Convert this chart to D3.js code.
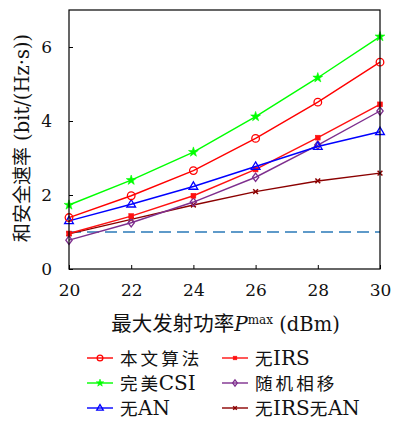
<!DOCTYPE html>
<html><head><meta charset="utf-8">
<script src="https://cdn.jsdelivr.net/npm/d3@7"></script>
<style>
body{margin:0;background:#fff;}
svg{display:block;}
</style></head><body>
<svg id="chart" width="393" height="421"></svg>
<script>
const xValues = [20, 22, 24, 26, 28, 30];
const seriesNames = ["本文算法", "完美CSI", "无AN", "无IRS", "随机相移", "无IRS无AN"];
const proposed = [1.39, 1.98, 2.66, 3.53, 4.51, 5.59];
const perfectCSI = [1.73, 2.40, 3.16, 4.12, 5.17, 6.28];
const noAN = [1.30, 1.75, 2.23, 2.77, 3.31, 3.71];
const noIRS = [0.96, 1.43, 1.98, 2.69, 3.55, 4.45];
const randomPhase = [0.78, 1.25, 1.81, 2.48, 3.35, 4.27];
const noIRSnoAN = [0.95, 1.34, 1.73, 2.09, 2.38, 2.59];
const threshold = [1.0, 1.0];
const xTicks = [20, 22, 24, 26, 28, 30];
const yTicks = [0, 2, 4, 6];

const SERIF = "DejaVu Serif";
const CJK = "Noto Sans CJK SC";

const svg = d3.select("#chart");
const L = 69, R = 380, T = 10, B = 269;
const x = d3.scaleLinear().domain([20, 30]).range([L, R]);
const y = d3.scaleLinear().domain([0, 7]).range([B, T]);

const styles = [
  {data: proposed, color: "#ff0000", marker: "circle"},
  {data: perfectCSI, color: "#00ff00", marker: "star"},
  {data: noAN, color: "#0000ff", marker: "triangle"},
  {data: noIRS, color: "#ff1010", marker: "square"},
  {data: randomPhase, color: "#7e2f8e", marker: "diamond"},
  {data: noIRSnoAN, color: "#8b0000", marker: "cross"}
];

svg.append("line")
  .attr("x1", x(20)).attr("x2", x(30))
  .attr("y1", y(threshold[0])).attr("y2", y(threshold[1]))
  .attr("stroke", "#2a7ab8").attr("stroke-width", 1.3)
  .attr("stroke-dasharray", "12,6");

const line = d3.line().x((d, i) => x(xValues[i])).y(d => y(d));

function drawMarker(g, type, cx, cy, color, s) {
  s = s || 1;
  if (type === "circle") {
    g.append("circle").attr("cx", cx).attr("cy", cy).attr("r", 3.8 * s)
      .attr("fill", "none").attr("stroke", color).attr("stroke-width", 1.3);
  } else if (type === "star") {
    g.append("path").attr("transform", `translate(${cx},${cy})`)
      .attr("d", d3.symbol(d3.symbolStar, 30 * s * s)())
      .attr("fill", color).attr("stroke", color).attr("stroke-width", 0.6);
  } else if (type === "triangle") {
    const r = 4.6 * s;
    g.append("path")
      .attr("d", `M${cx},${cy - r}L${cx + r * 0.95},${cy + r * 0.6}L${cx - r * 0.95},${cy + r * 0.6}Z`)
      .attr("fill", "none").attr("stroke", color).attr("stroke-width", 1.3);
  } else if (type === "square") {
    const h = 2.4 * s;
    g.append("rect").attr("x", cx - h).attr("y", cy - h).attr("width", 2 * h).attr("height", 2 * h)
      .attr("fill", color).attr("stroke", color).attr("stroke-width", 0.6);
  } else if (type === "diamond") {
    const r = 4.2 * s;
    g.append("path")
      .attr("d", `M${cx},${cy - r}L${cx + r * 0.75},${cy}L${cx},${cy + r}L${cx - r * 0.75},${cy}Z`)
      .attr("fill", "none").attr("stroke", color).attr("stroke-width", 1.3);
  } else if (type === "cross") {
    const r = 2.4 * s;
    g.append("path")
      .attr("d", `M${cx - r},${cy - r}L${cx + r},${cy + r}M${cx - r},${cy + r}L${cx + r},${cy - r}`)
      .attr("stroke", color).attr("stroke-width", 1.5);
  }
}

const order = [5, 4, 3, 2, 0, 1];
order.forEach(k => {
  const st = styles[k];
  const g = svg.append("g");
  g.append("path").attr("d", line(st.data)).attr("fill", "none")
    .attr("stroke", st.color).attr("stroke-width", 1.4);
  st.data.forEach((v, i) => drawMarker(g, st.marker, x(xValues[i]), y(v), st.color));
});

svg.append("rect").attr("x", L).attr("y", T).attr("width", R - L).attr("height", B - T)
  .attr("fill", "none").attr("stroke", "#000").attr("stroke-width", 1.2);

const xAxis = d3.axisBottom(x).tickValues(xTicks).tickFormat(d3.format("d"))
  .tickSizeInner(-4).tickSizeOuter(0).tickPadding(15);
const gx = svg.append("g").attr("transform", `translate(0,${B})`).call(xAxis);
gx.attr("font-family", null);
gx.select(".domain").remove();
gx.selectAll("text").attr("font-size", 17).attr("fill", "#111").attr("font-family", SERIF);
gx.selectAll("line").attr("stroke", "#000");

const yAxis = d3.axisLeft(y).tickValues(yTicks).tickFormat(d3.format("d"))
  .tickSizeInner(-4).tickSizeOuter(0).tickPadding(17);
const gy = svg.append("g").attr("transform", `translate(${L},0)`).call(yAxis);
gy.attr("font-family", null);
gy.select(".domain").remove();
gy.selectAll("text").attr("font-size", 17).attr("fill", "#111").attr("font-family", SERIF);
gy.selectAll("line").attr("stroke", "#000");

// x axis title
const xt = svg.append("text").attr("x", (L + R) / 2 + 1).attr("y", 331)
  .attr("text-anchor", "middle").attr("fill", "#111").attr("font-family", SERIF);
xt.append("tspan").attr("font-family", CJK).attr("font-size", 20.5).text("最大发射功率");
xt.append("tspan").attr("font-size", 20).attr("font-style", "italic").text("P");
xt.append("tspan").attr("font-size", 12).attr("dy", -7).text("max");
xt.append("tspan").attr("font-size", 19.5).attr("dy", 7).text(" (dBm)");

// y axis title
const yt = svg.append("text")
  .attr("transform", `translate(29,138) rotate(-90)`)
  .attr("text-anchor", "middle").attr("fill", "#111").attr("font-family", SERIF);
yt.append("tspan").attr("font-family", CJK).attr("font-size", 19).text("和安全速率");
yt.append("tspan").attr("font-size", 19.5).text(" (bit/(Hz·s))");

// legend
const legCols = [87, 222];
const legRows = [358, 383, 408];
styles.forEach((st, k) => {
  const col = k < 3 ? 0 : 1;
  const row = k % 3;
  const lx = legCols[col], ly = legRows[row];
  const g = svg.append("g");
  g.append("line").attr("x1", lx).attr("x2", lx + 26).attr("y1", ly).attr("y2", ly)
    .attr("stroke", st.color).attr("stroke-width", 1.4);
  drawMarker(g, st.marker, lx + 13, ly, st.color, 0.75);
  const name = seriesNames[k];
  const t = g.append("text").attr("x", lx + 33).attr("y", ly + 7).attr("fill", "#111")
    .attr("font-family", SERIF).attr("font-size", 20);
  const parts = name.match(/[\u4e00-\u9fff]+|[^\u4e00-\u9fff]+/g);
  parts.forEach((p, i) => {
    const isCJK = /[\u4e00-\u9fff]/.test(p);
    if (isCJK) {
      const chars = Array.from(p);
      const last = i === parts.length - 1;
      if (chars.length > 1) {
        t.append("tspan").attr("font-family", CJK).attr("font-size", 17.6)
          .attr("letter-spacing", 3).text(chars.slice(0, -1).join(""));
      }
      t.append("tspan").attr("font-family", CJK).attr("font-size", 17.6)
        .attr("letter-spacing", last ? 0 : 0.5).text(chars[chars.length - 1]);
    } else {
      t.append("tspan").text(p);
    }
  });
});
</script>
</body></html>
